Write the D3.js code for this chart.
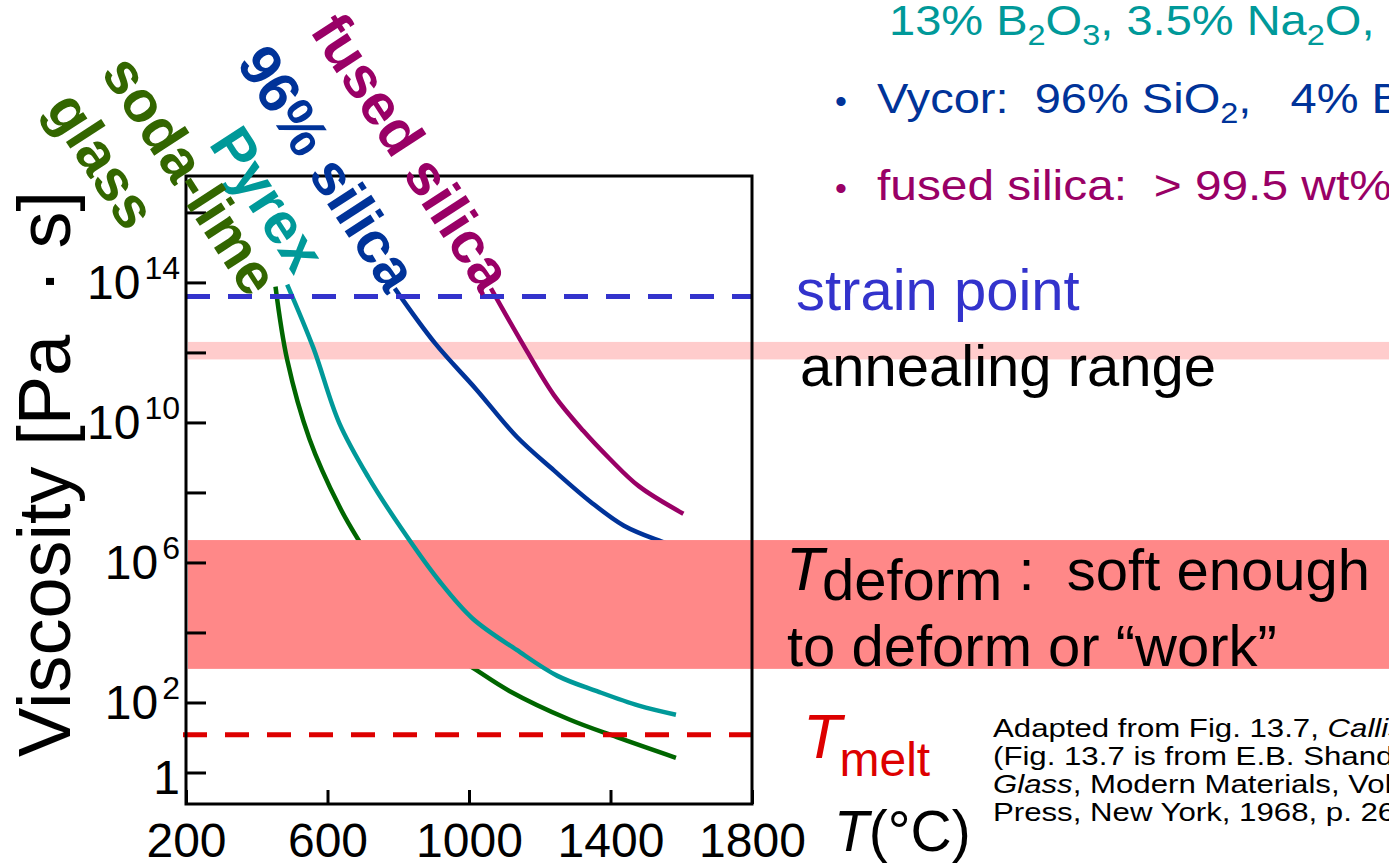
<!DOCTYPE html>
<html>
<head>
<meta charset="utf-8">
<script src="https://cdn.jsdelivr.net/npm/d3@7"></script>
<style>
  body { margin: 0; background: #fff; }
  svg { display: block; font-family: "Liberation Sans", Arial, sans-serif; }
  text { white-space: pre; }
</style>
</head>
<body>
<div id="chart"></div>
<script>
// temperature (°C) and log10 viscosity (Pa·s)
const sodaT   = [453, 486, 549, 633, 690, 780, 880, 950, 1020, 1114, 1282, 1418, 1585]
const sodaEta = [13.88, 11.79, 9.53, 7.61, 6.6, 5.2, 4.0, 3.4, 2.93, 2.33, 1.52, 1.01, 0.42]

const pyrexT   = [486, 560, 633, 717, 811, 916, 1010, 1135, 1250, 1365, 1480, 1585]
const pyrexEta = [13.94, 12.13, 9.99, 8.41, 6.94, 5.47, 4.4, 3.5, 2.76, 2.31, 1.91, 1.65]

const vycorT   = [790, 905, 1020, 1135, 1240, 1344, 1438, 1543, 1585]
const vycorEta = [13.83, 12.25, 10.95, 9.59, 8.63, 7.73, 7.05, 6.6, 6.45]

const fusedT   = [1062, 1145, 1240, 1323, 1397, 1480, 1606]
const fusedEta = [13.83, 12.36, 10.78, 9.76, 8.97, 8.18, 7.39]

const strainEta = 13.6
const annealBand = [11.8, 12.3]
const deformBand = [2.96, 6.64]
const meltEta = 1.08

const tempTicks = [200, 600, 1000, 1400, 1800]
const etaTicks = [0, 2, 4, 6, 8, 10, 12, 14, 16]
const etaLabelled = [0, 2, 6, 10, 14]

let W = 1389, H = 866
let box = {left: 186, right: 752, top: 176, bottom: 804}

let svg = d3.select('#chart').append('svg').attr('width', W).attr('height', H)

let x = d3.scaleLinear().domain([200, 1800]).range([box.left, box.right])
let y = d3.scaleLinear().domain([-0.9, 17.04]).range([box.bottom, box.top])

let line = d3.line()
             .x(d => x(d[0]))
             .y(d => y(d[1]))
             .curve(d3.curveCatmullRom.alpha(0.5))

function drawCurve(ts, etas, color){
    svg.append('path')
       .datum(ts.map((t, i) => [t, etas[i]]))
       .attr('d', line)
       .attr('fill', 'none')
       .attr('stroke', color)
       .attr('stroke-width', 4.5)
}

// annealing range (under the curves)
svg.append('rect')
   .attr('x', box.left + 2).attr('width', W - box.left)
   .attr('y', y(annealBand[1])).attr('height', y(annealBand[0]) - y(annealBand[1]))
   .attr('fill', '#ffcccc')

drawCurve(sodaT, sodaEta, '#006600')
drawCurve(vycorT, vycorEta, '#003399')
drawCurve(fusedT, fusedEta, '#990066')

// working range band hides green + blue, pyrex stays on top
svg.append('rect')
   .attr('x', box.left + 2).attr('width', W - box.left)
   .attr('y', y(deformBand[1])).attr('height', y(deformBand[0]) - y(deformBand[1]))
   .attr('fill', '#ff8888')

drawCurve(pyrexT, pyrexEta, '#009999')

svg.append('line')
   .attr('x1', box.left).attr('x2', box.right)
   .attr('y1', y(strainEta)).attr('y2', y(strainEta))
   .attr('stroke', '#3333cc').attr('stroke-width', 5)
   .attr('stroke-dasharray', '24 18')

svg.append('line')
   .attr('x1', box.left - 3).attr('x2', box.right)
   .attr('y1', y(meltEta)).attr('y2', y(meltEta))
   .attr('stroke', '#dd0000').attr('stroke-width', 5)
   .attr('stroke-dasharray', '24 18')

// frame
svg.append('rect')
   .attr('x', box.left).attr('y', box.top)
   .attr('width', box.right - box.left).attr('height', box.bottom - box.top)
   .attr('fill', 'none').attr('stroke', '#000').attr('stroke-width', 3)

// y axis
let yAxis = d3.axisLeft(y).tickValues(etaTicks).tickSize(-20).tickPadding(6).tickFormat('')
let yg = svg.append('g').attr('transform', `translate(${box.left},0)`).call(yAxis)
yg.select('.domain').remove()
yg.selectAll('.tick line').attr('stroke', '#000').attr('stroke-width', 3)
yg.selectAll('.tick text')
  .attr('font-size', 48).attr('fill', '#000').attr('font-family', null)
  .attr('dy', d => d === 0 ? '0.44em' : '0.33em')
  .each(function(d){
      if(etaLabelled.indexOf(d) < 0) return
      let t = d3.select(this)
      if(d === 0){ t.text('1'); return }
      t.append('tspan').text('10')
      t.append('tspan').attr('font-size', 32).attr('dx', 4).attr('dy', -20).text(d)
  })

// x axis
let xAxis = d3.axisBottom(x).tickValues(tempTicks).tickSize(-14).tickFormat(d3.format('d'))
let xg = svg.append('g').attr('transform', `translate(0,${box.bottom})`).call(xAxis)
xg.select('.domain').remove()
xg.selectAll('.tick line').attr('stroke', '#000').attr('stroke-width', 3)
xg.selectAll('.tick text')
  .attr('font-size', 48).attr('fill', '#000').attr('font-family', null)
  .attr('y', 53).attr('dy', 0)

let tLabel = svg.append('text').attr('x', 834).attr('y', 851).attr('font-size', 57)
tLabel.append('tspan').attr('font-style', 'italic').text('T')
tLabel.append('tspan').text('(°C)')

svg.append('text')
   .attr('transform', 'translate(70,757) rotate(-90)')
   .attr('font-size', 74)
   .text('Viscosity [Pa  · s]')

// right side annotations
svg.append('text').attr('x', 796).attr('y', 310).attr('font-size', 58).attr('fill', '#3333cc').text('strain point')
svg.append('text').attr('x', 800).attr('y', 386).attr('font-size', 58).attr('fill', '#000').text('annealing range')

let dT = svg.append('text').attr('x', 786).attr('y', 590).attr('font-size', 58)
dT.append('tspan').attr('font-style', 'italic').attr('font-size', 62).text('T')
dT.append('tspan').attr('dy', 10).attr('dx', -2).text('deform')
dT.append('tspan').attr('dy', -10).text(' :  soft enough')
svg.append('text').attr('x', 787).attr('y', 666).attr('font-size', 58).text('to deform or “work”')

let mT = svg.append('text').attr('x', 803).attr('y', 758).attr('font-size', 63).attr('fill', '#dd0000')
mT.append('tspan').attr('font-style', 'italic').text('T')
mT.append('tspan').attr('font-size', 48).attr('dy', 18).attr('dx', -2).text('melt')

// composition notes, top right; [..] marks a subscript
function chem(sel, parts, sub){
    let low = false
    parts.forEach(p => {
        let s = sel.append('tspan')
        if(typeof p === 'string'){
            if(low) s.attr('dy', -sub.shift)
            low = false
            s.text(p)
        } else {
            s.attr('font-size', sub.size).attr('dy', sub.shift).text(p[0])
            low = true
        }
    })
}
// the slide text is set a bit wide, hence the x stretch
let sub = {size: 29, shift: 10}
let c1 = svg.append('text').attr('transform', 'translate(889,35) scale(1.12,1)')
            .attr('font-size', 42).attr('fill', '#009999')
chem(c1, ['13% B', ['2'], 'O', ['3'], ', 3.5% Na', ['2'], 'O, 2.5% Al', ['2'], 'O', ['3']], sub)

svg.append('text').attr('x', 835).attr('y', 113).attr('font-size', 34).attr('fill', '#003399').text('•')
let c2 = svg.append('text').attr('transform', 'translate(877,113) scale(1.12,1)')
            .attr('font-size', 42).attr('fill', '#003399')
chem(c2, ['Vycor:  96% SiO', ['2'], ',   4% B', ['2'], 'O', ['3']], sub)

svg.append('text').attr('x', 835).attr('y', 200).attr('font-size', 34).attr('fill', '#990066').text('•')
let c3 = svg.append('text').attr('transform', 'translate(877,200) scale(1.14,1)')
            .attr('font-size', 42).attr('fill', '#990066')
chem(c3, ['fused silica:  > 99.5 wt% SiO', ['2']], sub)

// source note
let src = svg.append('text').attr('transform', 'translate(993,0) scale(1.2,1)')
             .attr('font-size', 26).attr('fill', '#000')
let l1 = src.append('tspan').attr('x', 0).attr('y', 737)
l1.append('tspan').text('Adapted from Fig. 13.7, ')
l1.append('tspan').attr('font-style', 'italic').text('Callister & Rethwisch 8e.')
src.append('tspan').attr('x', 0).attr('y', 765).text('(Fig. 13.7 is from E.B. Shand, Engineering Properties of')
let l3 = src.append('tspan').attr('x', 0).attr('y', 793)
l3.append('tspan').attr('font-style', 'italic').text('Glass')
l3.append('tspan').text(', Modern Materials, Vol. 6, Academic')
src.append('tspan').attr('x', 0).attr('y', 821).text('Press, New York, 1968, p. 262.)')

// rotated curve labels
let names = [
    {t: 'fused silica', c: '#990066', x: 412, y: 152},
    {t: '96% silica',   c: '#003399', x: 328, y: 168},
    {t: 'Pyrex',        c: '#009999', x: 268, y: 199},
    {t: 'soda-lime',    c: '#336600', x: 191, y: 175},
    {t: 'glass',        c: '#336600', x: 102, y: 160}
]
svg.selectAll('.name').data(names).enter()
   .append('text')
   .attr('class', 'name')
   .attr('transform', d => `translate(${d.x},${d.y}) rotate(57)`)
   .attr('text-anchor', 'middle')
   .attr('dy', '0.35em')
   .attr('font-size', 58)
   .attr('font-weight', 'bold')
   .attr('fill', d => d.c)
   .text(d => d.t)
</script>
</body>
</html>
